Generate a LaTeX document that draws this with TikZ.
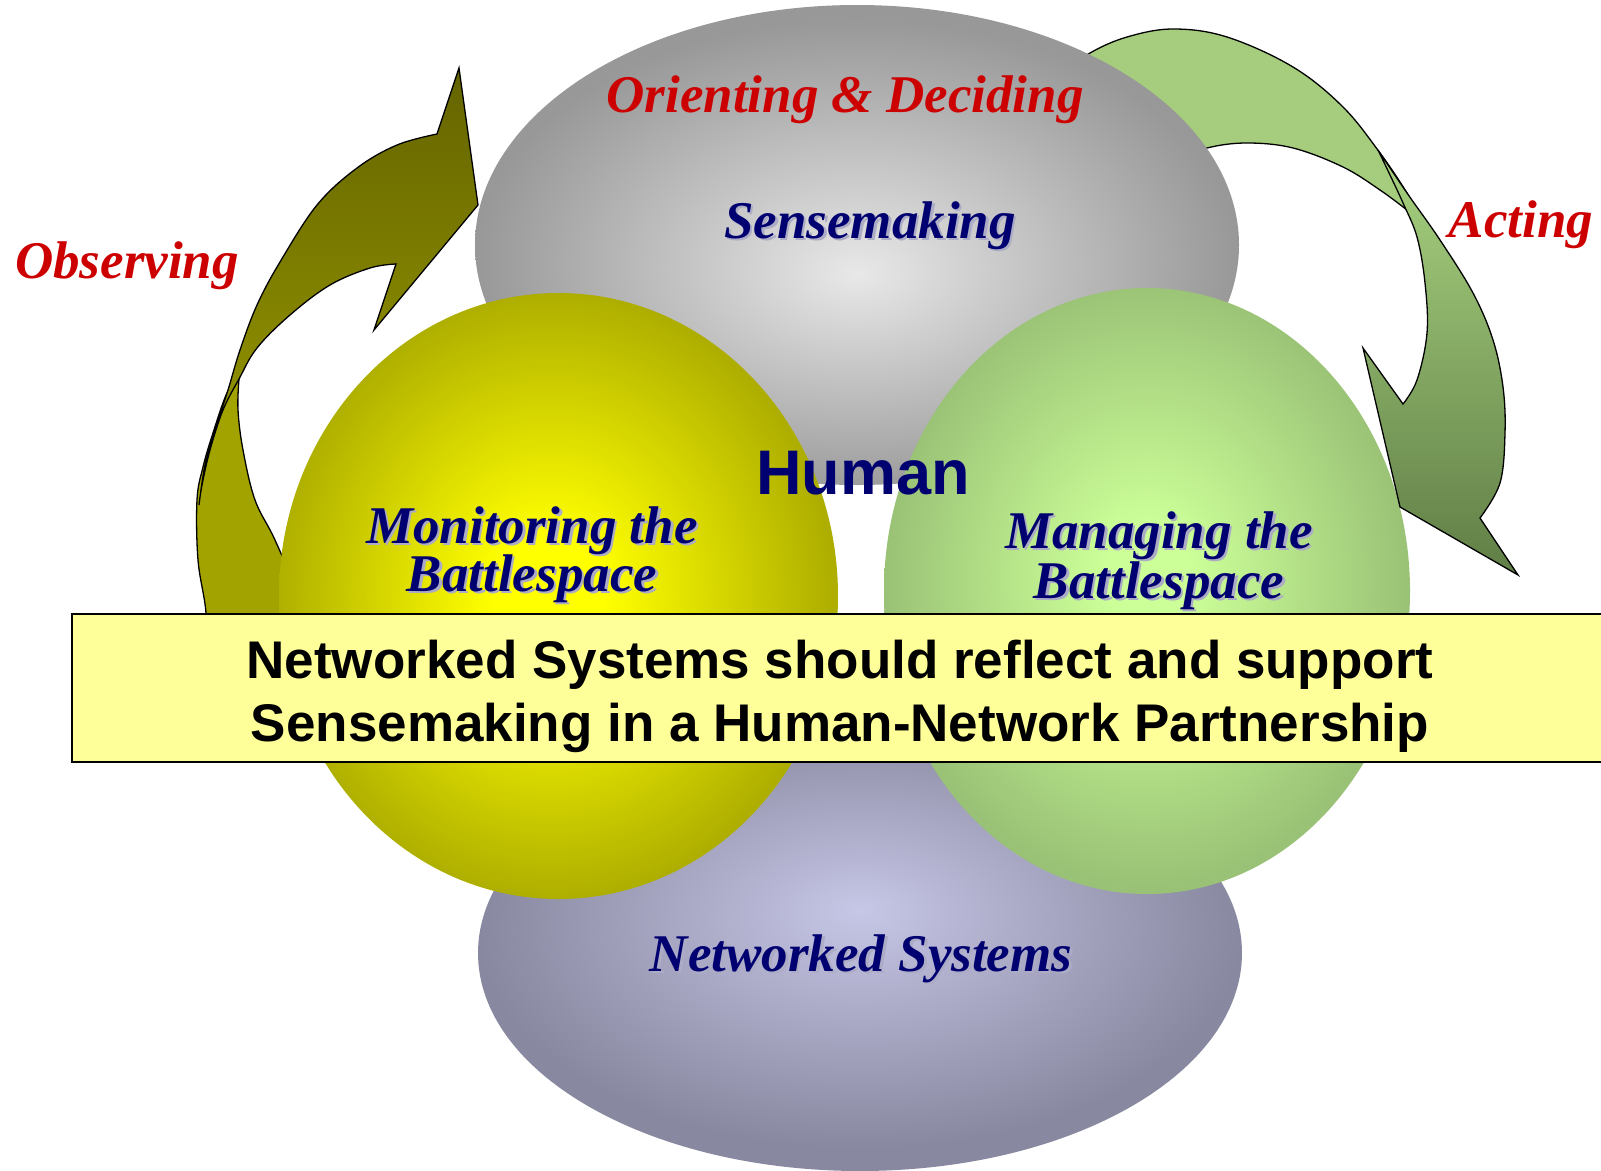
\documentclass[tikz,border=0pt]{standalone}
\usepackage{fontspec}
\setmainfont{Liberation Serif}
\newfontfamily\arialfont{Liberation Sans}

\definecolor{redlab}{RGB}{204,0,0}
\definecolor{navylab}{RGB}{0,0,112}
\definecolor{shadowlab}{RGB}{172,172,198}
\definecolor{bannerfill}{RGB}{255,255,153}
\definecolor{grayin}{RGB}{232,232,232}
\definecolor{grayout}{RGB}{152,152,152}
\definecolor{yelin}{RGB}{255,255,0}
\definecolor{yelout}{RGB}{174,174,0}
\definecolor{grnin}{RGB}{204,255,152}
\definecolor{grnout}{RGB}{154,194,118}
\definecolor{purin}{RGB}{198,198,230}
\definecolor{purout}{RGB}{136,136,160}
\definecolor{olvback}{RGB}{163,163,0}
\definecolor{olvtop}{RGB}{100,100,0}
\definecolor{olvbot}{RGB}{155,155,0}
\definecolor{grnback}{RGB}{165,205,125}
\definecolor{grntop}{RGB}{168,210,128}
\definecolor{grnbot}{RGB}{96,126,70}

\pgfdeclareradialshading{grayshade}{\pgfpoint{0bp}{-3bp}}{color(0bp)=(grayin); color(25bp)=(grayout); color(50bp)=(grayout)}
\pgfdeclareradialshading{yelshade}{\pgfpoint{-1bp}{0bp}}{color(0bp)=(yelin); color(5bp)=(yelin); color(25bp)=(yelout); color(50bp)=(yelout)}
\pgfdeclareradialshading{grnshade}{\pgfpoint{0bp}{1.5bp}}{color(0bp)=(grnin); color(4bp)=(grnin); color(25bp)=(grnout); color(50bp)=(grnout)}
\pgfdeclareradialshading{purshade}{\pgfpoint{0bp}{5bp}}{color(0bp)=(purin); color(25bp)=(purout); color(50bp)=(purout)}

\newcommand{\navyline}[4]{%
  \node[shadowlbl] (#1-s) at (#2+2.5,#3+2.5) {#4};
  \node[navylbl] (#1) at (#2,#3) {#4};}

\begin{document}
\begin{tikzpicture}[x=1pt,y=-1pt,
  lbl/.style={inner sep=0pt, outer sep=0pt, anchor=base, font=\fontsize{53}{53}\selectfont\bfseries\itshape},
  redlbl/.style={lbl, text=redlab},
  navylbl/.style={lbl, text=navylab},
  shadowlbl/.style={lbl, text=shadowlab},
  humanlbl/.style={inner sep=0pt, anchor=base, font=\arialfont\fontsize{63}{63}\selectfont\bfseries, text=navylab},
  bannertxt/.style={inner sep=0pt, anchor=base, font=\arialfont\fontsize{53}{53}\selectfont\bfseries, text=black},
  banner/.style={draw=black, line width=1.5pt, fill=bannerfill, inner sep=0pt, minimum width=1570pt, minimum height=148pt},
  arrowline/.style={draw=black, line width=1.3pt, line join=miter}]
\useasboundingbox (0,0) rectangle (1601,1170);
\clip (0,0) rectangle (1601,1170);

% Observing arrow (left): back part, then front band
\draw[arrowline, fill=olvback]
  plot[smooth, tension=0.6] coordinates {(239,379) (238,410) (243,450) (255,500) (275,540) (300,600) (318,660)}
  -- (205,660)
  -- plot[smooth, tension=0.6] coordinates {(205,660) (206,613) (198,560) (197,500) (203,467) (213,433) (227,393) (239,379)}
  -- cycle;
\draw[arrowline, top color=olvtop, bottom color=olvbot]
  plot[smooth, tension=0.6] coordinates {(199,505) (205,465) (215,430) (228,390) (240,350) (257,305) (280,262) (317,205) (357,168) (397,145) (437,134)}
  -- (459,68) -- (478,205) -- (374,330) -- (396,264)
  -- plot[smooth, tension=0.6] coordinates {(396,264) (370,268) (330,285) (290,315) (257,348) (239,379) (223,410) (210,450) (202,485) (199,505)}
  -- cycle;

% Acting arrow (right): back band
\draw[arrowline, fill=grnback]
  plot[smooth, tension=0.6] coordinates {(1060,75) (1090,53) (1127,37) (1173,29) (1227,37) (1293,67) (1343,107) (1380,153) (1407,193) (1420,217)}
  -- plot[smooth, tension=0.6] coordinates {(1407,210) (1380,190) (1343,167) (1293,148) (1247,143) (1207,148) (1170,162)}
  -- cycle;

% Ellipses and spheres
\shade[shading=grayshade] (857,245) ellipse [x radius=382pt, y radius=240pt];
\shade[shading=purshade] (860,953) ellipse [x radius=382pt, y radius=218pt];
\shade[shading=yelshade] (558.5,596) ellipse [x radius=279.5pt, y radius=303pt];
\shade[shading=grnshade] (1147,591) ellipse [x radius=263pt, y radius=303pt];

% Acting arrow (right): front band with head
\draw[arrowline, top color=grntop, bottom color=grnbot]
  plot[smooth, tension=0.6] coordinates {(1378,150) (1407,193) (1440,240) (1473,293) (1493,340) (1503,387) (1505,433) (1500,483) (1480,518)}
  -- (1518,575) -- (1400,507) -- (1363,348) -- (1403,404)
  -- plot[smooth, tension=0.6] coordinates {(1403,404) (1417,380) (1427,333) (1425,283) (1417,237) (1403,203) (1390,175) (1378,150)}
  -- cycle;

% Texts in shapes
\navyline{sense}{870}{238}{Sensemaking}
\navyline{mon1}{532}{543}{Monitoring the}
\navyline{mon2}{532}{591}{Battlespace}
\navyline{man1}{1159}{548}{Managing the}
\navyline{man2}{1159}{598}{Battlespace}
\navyline{netsys}{861}{971}{Networked Systems}
\node[humanlbl] (human) at (863,494) {Human};

% Banner
\node[banner, anchor=north west] (banner) at (71,613) {};
\node[bannertxt] (ban1) at (840,678) {Networked Systems should reflect and support};
\node[bannertxt] (ban2) at (840,741) {Sensemaking in a Human-Network Partnership};

% Process labels
\node[redlbl] (orient) at (845,112) {Orienting \& Deciding};
\node[redlbl] (observe) at (127,278) {Observing};
\node[redlbl] (acting) at (1521,237) {Acting};
\end{tikzpicture}
\end{document}
